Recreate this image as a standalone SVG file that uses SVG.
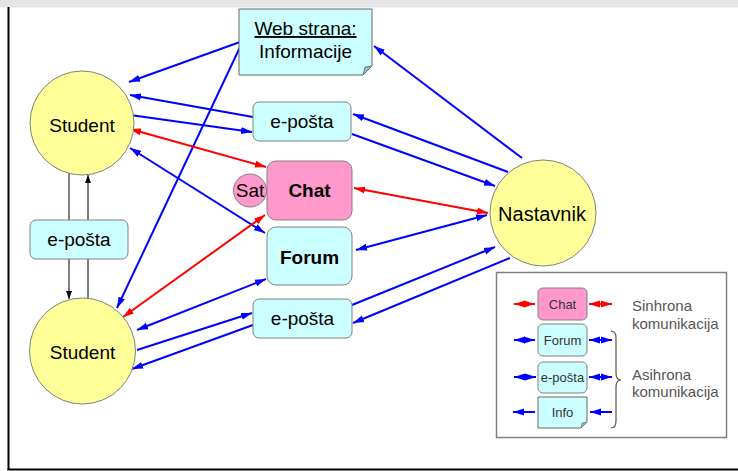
<svg xmlns="http://www.w3.org/2000/svg" width="738" height="471" viewBox="0 0 738 471">
<style>
.t{font-family:"Liberation Sans",Arial,sans-serif;fill:#000;text-anchor:middle}
.lg{font-family:"Liberation Sans",Arial,sans-serif;fill:#333;text-anchor:middle;font-size:13px}
.lt{font-family:"Liberation Sans",Arial,sans-serif;fill:#555;font-size:15px}
.circ{fill:#ffff99;stroke:#808080;stroke-width:1}
.cy{fill:#ccffff;stroke:#808080;stroke-width:1}
.pk{fill:#ff99cc;stroke:#808080;stroke-width:1}
.b{stroke:#0000ff;stroke-width:2;fill:none}
.r{stroke:#ff0000;stroke-width:2;fill:none}
.k{stroke:#000;stroke-width:1;fill:none}
.be{marker-end:url(#ab)}
.bb{marker-start:url(#ab);marker-end:url(#ab)}
.rb{marker-start:url(#ar);marker-end:url(#ar)}
</style>
<defs>
<marker id="ab" markerUnits="userSpaceOnUse" markerWidth="11" markerHeight="8" refX="11" refY="4" orient="auto-start-reverse"><path d="M0,0.5 L11,4 L0,7.5 z" fill="#0000ff"/></marker>
<marker id="ar" markerUnits="userSpaceOnUse" markerWidth="11" markerHeight="8" refX="11" refY="4" orient="auto-start-reverse"><path d="M0,0.5 L11,4 L0,7.5 z" fill="#ff0000"/></marker>
<marker id="ak" markerUnits="userSpaceOnUse" markerWidth="8" markerHeight="8" refX="8" refY="4" orient="auto-start-reverse"><path d="M0,1 L8,4 L0,7 z" fill="#000"/></marker>
</defs>
<rect x="0" y="0" width="738" height="471" fill="#fff"/>
<rect x="0" y="0" width="738" height="7.5" fill="#e4e4e6"/>
<line x1="8.5" y1="7" x2="8.5" y2="470" stroke="#000" stroke-width="2"/>
<line x1="7.5" y1="469.5" x2="738" y2="469.5" stroke="#000" stroke-width="2"/>

<g id="connectors">
<line class="b be" x1="240" y1="42" x2="129" y2="82"/>
<line class="b be" x1="241" y1="45" x2="117" y2="308"/>
<line class="b be" x1="522" y1="158" x2="374" y2="46"/>
<line class="b be" x1="253" y1="117" x2="130" y2="95"/>
<line class="b be" x1="130" y1="115" x2="252" y2="132"/>
<line class="b be" x1="508" y1="172" x2="353" y2="114"/>
<line class="b be" x1="352" y1="134" x2="495" y2="186"/>
<line class="b bb" x1="130" y1="148" x2="265" y2="233"/>
<line class="b bb" x1="356" y1="250" x2="487" y2="215"/>
<line class="b bb" x1="137" y1="330" x2="266" y2="279"/>
<line class="b be" x1="137" y1="350" x2="252" y2="313"/>
<line class="b be" x1="253" y1="325" x2="132" y2="369"/>
<line class="b be" x1="352" y1="305" x2="495" y2="247"/>
<line class="b be" x1="510" y1="258" x2="353" y2="323"/>
<line class="r rb" x1="130" y1="129" x2="266" y2="167"/>
<line class="r rb" x1="354" y1="188" x2="488" y2="213"/>
<line class="r rb" x1="123" y1="317" x2="265" y2="215"/>
<line class="k" x1="69" y1="173" x2="69" y2="220"/>
<line class="k" x1="69" y1="259" x2="69" y2="299" marker-end="url(#ak)"/>
<line class="k" x1="88" y1="220" x2="88" y2="175" marker-end="url(#ak)"/>
<line class="k" x1="88" y1="299" x2="88" y2="259"/>
</g>

<g id="web">
<path d="M239,9 H372 V66 L363,75 H239 Z" fill="#ccffff" stroke="#666" stroke-width="1"/>
<path d="M363,75 L365,67 L372,66 Z" fill="#8fbcbc" stroke="#666" stroke-width="0.8"/>
<text class="t" x="305.5" y="35" font-size="19" text-decoration="underline">Web strana:</text>
<text class="t" x="305.5" y="58" font-size="19">Informacije</text>
</g>

<g id="student1">
<circle class="circ" cx="82" cy="123" r="52"/>
<text class="t" x="82" y="132" font-size="19">Student</text>
</g>

<g id="student2">
<circle class="circ" cx="82.5" cy="351" r="53"/>
<text class="t" x="82.5" y="359" font-size="19">Student</text>
</g>

<g id="nastavnik">
<circle class="circ" cx="543" cy="213" r="53"/>
<text class="t" x="542" y="221" font-size="20">Nastavnik</text>
</g>

<g id="eposta1">
<rect class="cy" x="253" y="102" width="98" height="39" rx="6"/>
<text class="t" x="302" y="128" font-size="19">e-pošta</text>
</g>

<g id="sat">
<circle class="pk" cx="250" cy="190.5" r="16.5"/>
<text class="t" x="250" y="197" font-size="19">Sat</text>
</g>

<g id="chat">
<rect class="pk" x="267" y="161" width="85" height="59" rx="9"/>
<text class="t" x="309.5" y="197" font-size="19" font-weight="bold">Chat</text>
</g>

<g id="forum">
<rect class="cy" x="267" y="227" width="85" height="58" rx="9"/>
<text class="t" x="309.5" y="264" font-size="19" font-weight="bold">Forum</text>
</g>

<g id="eposta2">
<rect class="cy" x="253" y="299" width="99" height="39" rx="6"/>
<text class="t" x="302.5" y="325" font-size="19">e-pošta</text>
</g>

<g id="eposta3">
<rect class="cy" x="30" y="220" width="98" height="39" rx="6"/>
<text class="t" x="79" y="246" font-size="19">e-pošta</text>
</g>

<g id="legend">
<rect x="496.5" y="272.5" width="230" height="165" fill="#fff" stroke="#808080" stroke-width="1.5"/>
<rect class="pk" x="538" y="288" width="49" height="32" rx="5"/>
<text class="lg" x="562.5" y="309">Chat</text>
<rect class="cy" x="538" y="324" width="49" height="32" rx="5"/>
<text class="lg" x="562.5" y="345">Forum</text>
<rect class="cy" x="538" y="362" width="49" height="31" rx="5"/>
<text class="lg" x="562.5" y="382">e-pošta</text>
<path d="M538,397 H587 V422 L581,428 H538 Z" fill="#ccffff" stroke="#666" stroke-width="1"/>
<path d="M581,428 L582,423 L587,422 Z" fill="#8fbcbc" stroke="#666" stroke-width="0.6"/>
<text class="lg" x="562.5" y="417">Info</text>
<line class="r rb" x1="514" y1="304" x2="535" y2="304"/>
<line class="r rb" x1="589" y1="304" x2="612" y2="304"/>
<line class="b bb" x1="514" y1="340" x2="535" y2="340"/>
<line class="b bb" x1="589" y1="340" x2="612" y2="340"/>
<line class="b bb" x1="514" y1="377" x2="536" y2="377"/>
<line class="b bb" x1="589" y1="377" x2="612" y2="377"/>
<line class="b be" x1="535" y1="412" x2="513" y2="412"/>
<line class="b be" x1="612" y1="412" x2="590" y2="412"/>
<path d="M611,331 Q616,331 616,338 V373 Q616,380 621,380 Q616,380 616,387 V421 Q616,428 611,428" fill="none" stroke="#555" stroke-width="1.2"/>
<text class="lt" x="632" y="311">Sinhrona</text>
<text class="lt" x="632" y="329">komunikacija</text>
<text class="lt" x="632" y="380">Asihrona</text>
<text class="lt" x="632" y="397">komunikacija</text>
</g>
</svg>
